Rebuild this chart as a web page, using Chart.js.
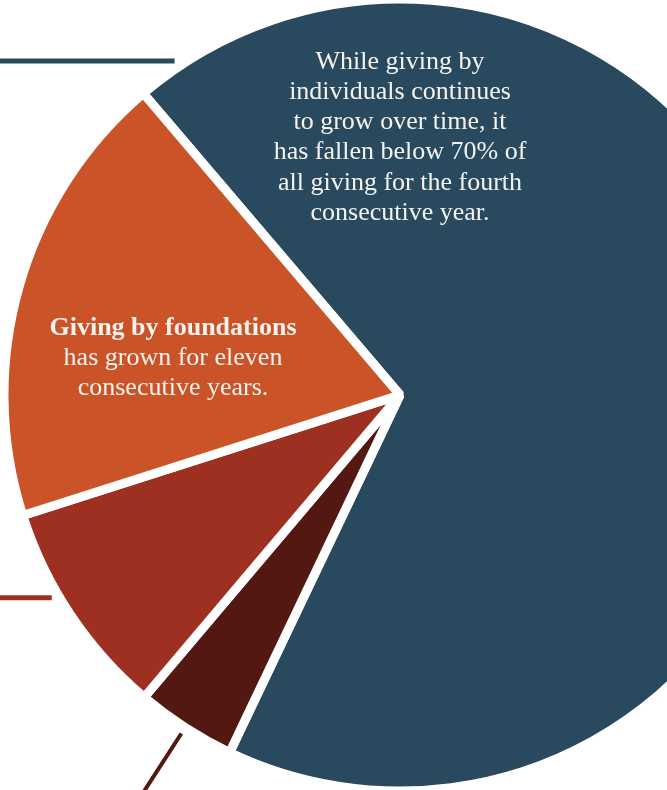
<!DOCTYPE html>
<html><head><meta charset="utf-8">
<script src="https://cdn.jsdelivr.net/npm/chart.js@4/dist/chart.umd.min.js"></script>
<style>
html,body{margin:0;padding:0;background:#fff;overflow:hidden;width:667px;height:790px}
#wrap{position:absolute;left:0;top:0;width:800px;height:790px}
</style>
</head><body>
<div id="wrap"><canvas id="c" width="800" height="790"></canvas></div>
<script>
// Data (clockwise from the individuals slice)
const categories = ['Individuals', 'Corporations', 'Bequests', 'Foundations'];
const shares = [68.3, 4.1, 8.9, 18.7];
const sliceColors = ['#294a5e', '#521811', '#9e3022', '#cb5328'];
const startAngleDeg = -40.4;

const individualsNote = [
  'While giving by',
  'individuals continues',
  'to grow over time, it',
  'has fallen below 70% of',
  'all giving for the fourth',
  'consecutive year.'
];
const foundationsTitle = 'Giving by foundations';
const foundationsNote = ['has grown for eleven', 'consecutive years.'];

// leader lines: slice index, fraction along the slice, style
const leaders = [
  {index: 0, frac: 0.026, style: 'horizontal', width: 5},
  {index: 2, frac: 0.61, style: 'horizontal', width: 5},
  {index: 1, frac: 0.5, style: 'radial', width: 4}
];

const annotate = {
  id: 'annotate',
  afterDatasetsDraw(chart) {
    const ctx = chart.ctx;
    const arcs = chart.getDatasetMeta(0).data;
    const cx = arcs[0].x, cy = arcs[0].y, R = arcs[0].outerRadius;
    ctx.save();
    leaders.forEach(l => {
      const a = arcs[l.index];
      const ang = a.startAngle + l.frac * (a.endAngle - a.startAngle);
      const r0 = R + 7;
      const px = cx + r0 * Math.cos(ang), py = cy + r0 * Math.sin(ang);
      ctx.strokeStyle = sliceColors[l.index];
      ctx.lineWidth = l.width;
      ctx.beginPath();
      if (l.style === 'horizontal') {
        ctx.moveTo(0, py);
        ctx.lineTo(px, py);
      } else {
        const r1 = R + 80;
        ctx.moveTo(px, py);
        ctx.lineTo(cx + r1 * Math.cos(ang), cy + r1 * Math.sin(ang));
      }
      ctx.stroke();
    });
    ctx.fillStyle = '#f6f3ee';
    ctx.textAlign = 'center';
    ctx.textBaseline = 'middle';
    ctx.font = '26px "Liberation Serif", serif';
    individualsNote.forEach((t, i) => ctx.fillText(t, cx, cy - 333 + i * 30.2));
    const fx = cx - 227;
    ctx.font = 'bold 26px "Liberation Serif", serif';
    ctx.fillText(foundationsTitle, fx, cy - 67);
    ctx.font = '26px "Liberation Serif", serif';
    foundationsNote.forEach((t, i) => ctx.fillText(t, fx, cy - 37 + i * 30));
    ctx.restore();
  }
};

new Chart(document.getElementById('c'), {
  type: 'pie',
  data: {
    labels: categories,
    datasets: [{
      data: shares,
      backgroundColor: sliceColors,
      borderColor: '#ffffff',
      borderWidth: 9,
      radius: 396
    }]
  },
  options: {
    responsive: false,
    animation: false,
    rotation: startAngleDeg,
    layout: {padding: 0},
    plugins: {legend: {display: false}, tooltip: {enabled: false}}
  },
  plugins: [annotate]
});
</script>
</body></html>
